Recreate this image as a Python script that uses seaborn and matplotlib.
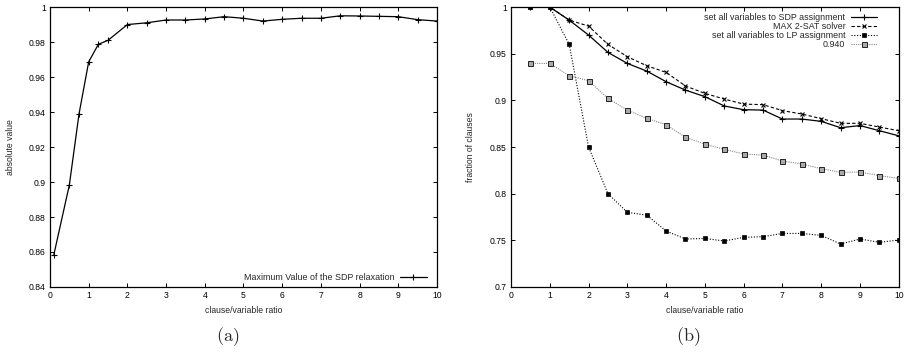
import matplotlib
matplotlib.use("Agg")
import matplotlib.pyplot as plt
import seaborn as sns
import pandas as pd

# data
ratio_a = [0.1, 0.5, 0.75, 1.0, 1.25, 1.5, 2, 2.5, 3, 3.5, 4, 4.5, 5, 5.5, 6, 6.5, 7, 7.5, 8, 8.5, 9, 9.5, 10]
sdp_max = [0.8585, 0.8983, 0.9389, 0.9687, 0.9787, 0.981, 0.990, 0.991, 0.9926, 0.9926, 0.9932, 0.9945, 0.9936,
           0.992, 0.993, 0.9936, 0.9936, 0.995, 0.9949, 0.9947, 0.9945, 0.9928, 0.992]

ratio_b = [0.5, 1, 1.5, 2, 2.5, 3, 3.5, 4, 4.5, 5, 5.5, 6, 6.5, 7, 7.5, 8, 8.5, 9, 9.5, 10]
sdp_assign = [1.0, 1.0, 0.986, 0.970, 0.9514, 0.9396, 0.9314, 0.920, 0.911, 0.904, 0.894, 0.890, 0.8896,
              0.880, 0.880, 0.8775, 0.8707, 0.873, 0.8675, 0.862]
max2sat = [1.0, 1.0, 0.986, 0.9796, 0.960, 0.9468, 0.9371, 0.930, 0.9154, 0.9075, 0.9014, 0.896, 0.8954,
           0.889, 0.8854, 0.8804, 0.8754, 0.8754, 0.8714, 0.8675]
lp_assign = [1.0, 1.0, 0.960, 0.850, 0.800, 0.780, 0.777, 0.760, 0.7514, 0.752, 0.7493, 0.7532, 0.7539,
             0.7574, 0.7574, 0.7553, 0.7461, 0.7514, 0.7479, 0.7503]
bound_940 = [0.9396, 0.9396, 0.9264, 0.9211, 0.9021, 0.8896, 0.8807, 0.8739, 0.8604, 0.8532, 0.8475, 0.8425,
             0.8414, 0.835, 0.8318, 0.8268, 0.8229, 0.8232, 0.8193, 0.8164]

ticks_a = [0.84, 0.86, 0.88, 0.9, 0.92, 0.94, 0.96, 0.98, 1]
ticks_b = [0.7, 0.75, 0.8, 0.85, 0.9, 0.95, 1]
xticks = list(range(0, 11))

sns.set_style("ticks")
plt.rcParams['font.family'] = ['Liberation Sans', 'DejaVu Sans']
plt.rcParams['mathtext.fontset'] = 'cm'
plt.rcParams['xtick.direction'] = 'in'
plt.rcParams['ytick.direction'] = 'in'
plt.rcParams['xtick.top'] = True
plt.rcParams['ytick.right'] = True

fig = plt.figure(figsize=(9.09, 3.53), dpi=100)
ax1 = fig.add_axes([0.055, 0.187, 0.4257, 0.793])
ax2 = fig.add_axes([0.5622, 0.187, 0.4265, 0.793])

fs = 6.2
lfs = 6.4

# (a)
df_a = pd.DataFrame({"ratio": ratio_a, "value": sdp_max})
sns.lineplot(data=df_a, x="ratio", y="value", ax=ax1, color="black", lw=0.9,
             marker="+", markersize=4.5, markeredgewidth=0.8, markeredgecolor="black",
             label="Maximum Value of the SDP relaxation")
ax1.set_xlim(0, 10)
ax1.set_ylim(0.84, 1)
ax1.set_yticks(ticks_a)
ax1.set_yticklabels([f"{t:g}" for t in ticks_a])
ax1.set_xticks(xticks)
ax1.set_xlabel("clause/variable ratio", fontsize=fs, labelpad=4)
ax1.set_ylabel("absolute value", fontsize=fs, labelpad=10)
ax1.legend(loc="lower right", bbox_to_anchor=(0.987, 0.0), frameon=False, fontsize=lfs,
           markerfirst=False, handlelength=3.0, handletextpad=0.6, borderaxespad=0.2,
           numpoints=1)

# (b)
df_b = pd.DataFrame({"ratio": ratio_b, "sdp": sdp_assign, "sat": max2sat,
                     "lp": lp_assign, "b940": bound_940})
sns.lineplot(data=df_b, x="ratio", y="sdp", ax=ax2, color="black", lw=0.9,
             marker="+", markersize=4.5, markeredgewidth=0.8, markeredgecolor="black",
             label="set all variables to SDP assignment")
sns.lineplot(data=df_b, x="ratio", y="sat", ax=ax2, color="black", lw=0.8,
             linestyle=(0, (3, 2)), marker="x", markersize=3.2, markeredgewidth=0.8,
             markeredgecolor="black", label="MAX 2-SAT solver")
sns.lineplot(data=df_b, x="ratio", y="lp", ax=ax2, color="black", lw=0.8,
             linestyle=(0, (1, 1.5)), marker="s", markersize=2.8, markeredgewidth=0.5,
             markerfacecolor="black", markeredgecolor="black",
             label="set all variables to LP assignment")
sns.lineplot(data=df_b, x="ratio", y="b940", ax=ax2, color="#888888", lw=0.8,
             linestyle=(0, (1, 1)), marker="s", markersize=3.6, markeredgewidth=0.7,
             markerfacecolor="#aaaaaa", markeredgecolor="#222222", label="0.940")
ax2.set_xlim(0, 10)
ax2.set_ylim(0.7, 1)
ax2.set_yticks(ticks_b)
ax2.set_yticklabels([f"{t:g}" for t in ticks_b])
ax2.set_xticks(xticks)
ax2.set_xlabel("clause/variable ratio", fontsize=fs, labelpad=4)
ax2.set_ylabel("fraction of clauses", fontsize=fs, labelpad=11)
ax2.legend(loc="upper right", bbox_to_anchor=(0.961, 1.0), frameon=False, fontsize=lfs,
           markerfirst=False, handlelength=3.0, handletextpad=0.6, borderaxespad=0.3,
           labelspacing=0.0, numpoints=1)

for ax in (ax1, ax2):
    ax.tick_params(labelsize=fs, length=3, width=0.7, pad=3, colors="black")
    for sp in ax.spines.values():
        sp.set_linewidth(0.9)
        sp.set_color("black")

fig.text(0.25, 0.045, r"$\mathrm{(a)}$", fontsize=13, ha="center", va="center")
fig.text(0.757, 0.045, r"$\mathrm{(b)}$", fontsize=13, ha="center", va="center")

fig.savefig("out.png", dpi=100)
